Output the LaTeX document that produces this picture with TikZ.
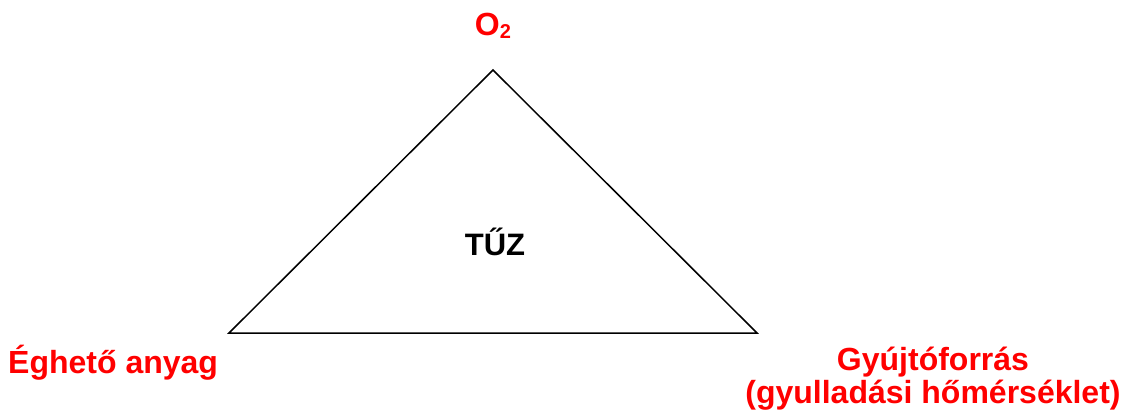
\documentclass[tikz,border=0pt]{standalone}
\usepackage{fontspec}
\setmainfont{Liberation Sans}
\begin{document}
\begin{tikzpicture}[x=1pt,y=-1pt,
  lbl/.style={font=\bfseries\fontsize{32}{36}\selectfont, text=red, inner sep=0pt},
  ctr/.style={font=\bfseries\fontsize{31}{35}\selectfont, text=black, inner sep=0pt},
  edge/.style={draw=black, line width=1.5pt, line join=miter}]
\useasboundingbox (0,0) rectangle (1127,414);
\coordinate (top) at (493,70);
\coordinate (left) at (229,333);
\coordinate (right) at (757,333);
\draw[edge] (top) -- (left) -- (right) -- cycle;
\node[ctr, anchor=base] (fire) at (495,255) {TŰZ};
\node[lbl, anchor=base] (oxy) at (493,36) {O\raisebox{-3pt}{\fontsize{20}{20}\selectfont 2}};
\node[lbl, anchor=base west] (fuel) at (8,373) {Éghető anyag};
\node[lbl, anchor=base] (heat) at (933,370) {Gyújtóforrás};
\node[lbl, anchor=base] (heat2) at (933,403) {(gyulladási hőmérséklet)};
\end{tikzpicture}
\end{document}
